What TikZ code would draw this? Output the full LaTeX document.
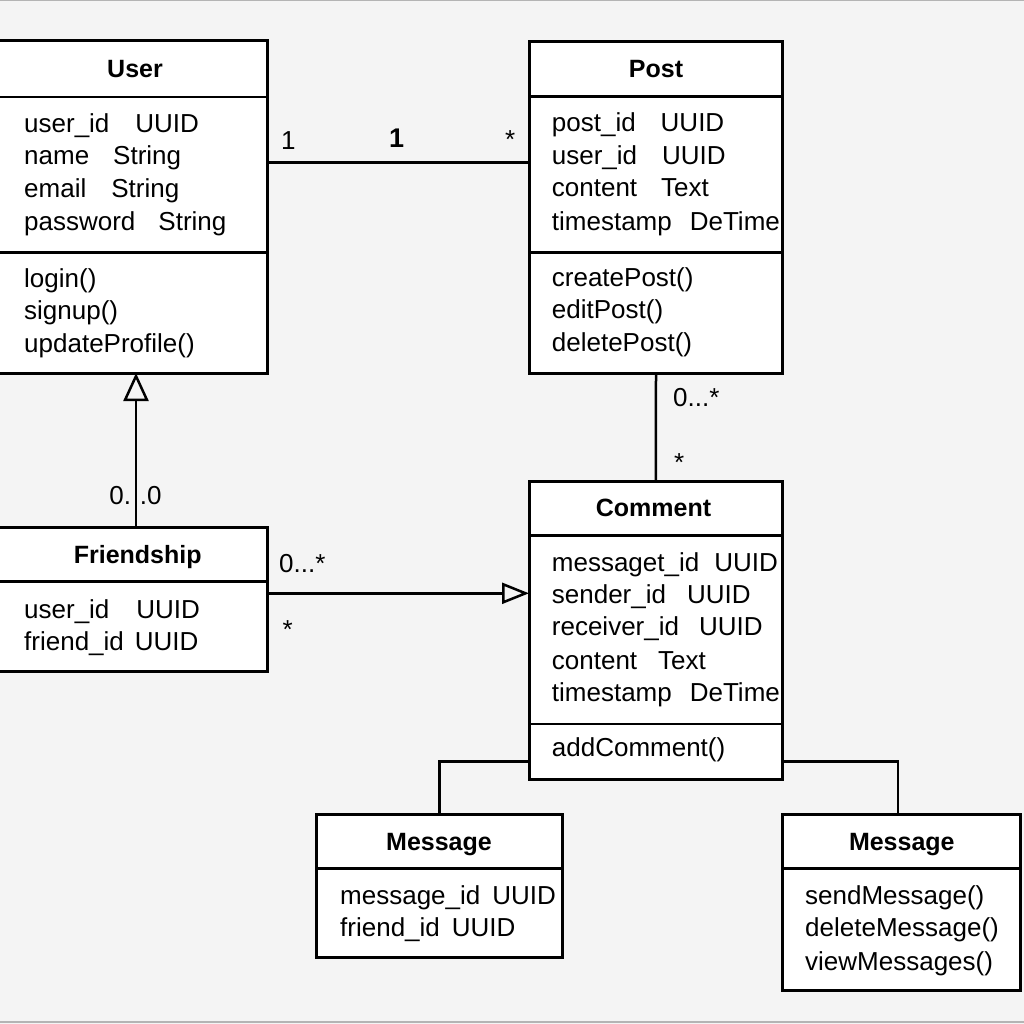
\documentclass[tikz,border=0pt]{standalone}
\usepackage{fontspec}
\setmainfont{Liberation Sans}
\usetikzlibrary{arrows.meta,calc}
\definecolor{bgc}{HTML}{F4F4F4}
\definecolor{edgec}{HTML}{B4B4B4}
\begin{document}
\begin{tikzpicture}[x=1pt,y=-1pt,
  box/.style={draw=black, fill=white, line width=3pt, anchor=north west, inner sep=0pt, outer sep=0pt},
  div/.style={line width=2.5pt},
  conn/.style={line width=2.5pt},
  txt/.style={anchor=base west, inner sep=0pt, font=\fontsize{26}{30}\selectfont},
  ttl/.style={anchor=base, inner sep=0pt, font=\fontsize{25}{30}\selectfont\bfseries},
  lbl/.style={anchor=base west, inner sep=0pt, font=\fontsize{26}{30}\selectfont},
  genA/.style={conn, -{Triangle[open, length=28pt, width=25pt, line width=2.5pt]}},
  genB/.style={conn, -{Triangle[open, length=27pt, width=21pt, line width=2.5pt]}}
]
\useasboundingbox (0,0) rectangle (1024,1024);
\clip (0,0) rectangle (1024,1024);
\fill[bgc] (0,0) rectangle (1024,1024);
\draw[edgec, line width=1.5pt] (0,0.75) -- (1024,0.75);
\draw[edgec, line width=1.5pt] (0,1022) -- (1024,1022);

% boxes
\node[box, minimum width=287.7pt, minimum height=332pt] (user) at (-20,41) {};
\node[box, minimum width=253.4pt, minimum height=331.7pt] (post) at (529.3,41.3) {};
\node[box, minimum width=287.7pt, minimum height=144.4pt] (friend) at (-20,527.3) {};
\node[box, minimum width=253.7pt, minimum height=297.6pt] (comment) at (529,481.7) {};
\node[box, minimum width=246pt, minimum height=143.7pt] (msga) at (316.7,814) {};
\node[box, minimum width=237.3pt, minimum height=176pt] (msgb) at (782.7,814) {};

% dividers
\draw[div] (user.west |- 0,97) -- (user.east |- 0,97);
\draw[div] (user.west |- 0,252.5) -- (user.east |- 0,252.5);
\draw[div] (post.west |- 0,96.5) -- (post.east |- 0,96.5);
\draw[div] (post.west |- 0,252.7) -- (post.east |- 0,252.7);
\draw[div] (friend.west |- 0,581.7) -- (friend.east |- 0,581.7);
\draw[div] (comment.west |- 0,535.7) -- (comment.east |- 0,535.7);
\draw[div] (comment.west |- 0,724) -- (comment.east |- 0,724);
\draw[div] (msga.west |- 0,868.3) -- (msga.east |- 0,868.3);
\draw[div] (msgb.west |- 0,868.3) -- (msgb.east |- 0,868.3);

% User
\node[ttl] (userT) at (135,78) {User};
\node[txt] (u1) at (24,133) {user\_id\hspace{26pt}UUID};
\node[txt] (u2) at (24,165) {name\hspace{24pt}String};
\node[txt] (u3) at (24,197.5) {email\hspace{25pt}String};
\node[txt] (u4) at (24,230) {password\hspace{23pt}String};
\node[txt] (u5) at (24,287) {login()};
\node[txt] (u6) at (24,319.5) {signup()};
\node[txt] (u7) at (24,352) {updateProfile()};

% Post
\node[ttl] (postT) at (656,77.7) {Post};
\node[txt] (p1) at (551.7,131.7) {post\_id\hspace{25pt}UUID};
\node[txt] (p2) at (551.7,164.3) {user\_id\hspace{25pt}UUID};
\node[txt] (p3) at (551.7,196.7) {content\hspace{24pt}Text};
\node[txt] (p4) at (551.7,230) {timestamp\hspace{18pt}DeTime};
\node[txt] (p5) at (551.7,286.7) {createPost()};
\node[txt] (p6) at (551.7,318.3) {editPost()};
\node[txt] (p7) at (551.7,351.7) {deletePost()};

% Friendship
\node[ttl] (friendT) at (137.7,563.3) {Friendship};
\node[txt] (f1) at (24,618.3) {user\_id\hspace{27pt}UUID};
\node[txt] (f2) at (24,650) {friend\_id\hspace{11pt}UUID};

% Comment
\node[ttl] (commentT) at (653.5,516.7) {Comment};
\node[txt] (c1) at (551.7,571.7) {messaget\_id\hspace{15pt}UUID};
\node[txt] (c2) at (551.7,603.3) {sender\_id\hspace{21pt}UUID};
\node[txt] (c3) at (551.7,635.7) {receiver\_id\hspace{20pt}UUID};
\node[txt] (c4) at (551.7,669) {content\hspace{21pt}Text};
\node[txt] (c5) at (551.7,701.7) {timestamp\hspace{18pt}DeTime};
\node[txt] (c6) at (551.7,756.7) {addComment()};

% Message (left)
\node[ttl] (msgaT) at (439,850) {Message};
\node[txt] (ma1) at (340,904.3) {message\_id\hspace{12pt}UUID};
\node[txt] (ma2) at (340,936.7) {friend\_id\hspace{12pt}UUID};

% Message (right)
\node[ttl] (msgbT) at (901.8,850) {Message};
\node[txt] (mb1) at (805,904.3) {sendMessage()};
\node[txt] (mb2) at (805,936.7) {deleteMessage()};
\node[txt] (mb3) at (805,970) {viewMessages()};

% connectors
\draw[conn] (user.east |- 0,162.3) -- (post.west |- 0,162.3);
\draw[conn] (post.south) -- (comment.north);
\draw[genA] (friend.north -| 136,0) -- (user.south -| 136,0);
\draw[genB] (friend.east |- 0,593.3) -- (comment.west |- 0,593.3);
\draw[conn] (comment.west |- 0,761.7) -| (msga.north);
\draw[conn] (comment.east |- 0,761.7) -| ($(msgb.north)+(-3.3,0)$);

% multiplicity labels
\node[lbl] (l1) at (281,150) {1};
\node[lbl, font=\fontsize{27}{30}\selectfont\bfseries] (l2) at (389,147.7) {1};
\node[lbl] (l3) at (505,149) {*};
\node[lbl] (l4) at (673,406.7) {0...*};
\node[lbl] (l5) at (674,471.7) {*};
\node[lbl, anchor=base] (l6) at (135.5,504) {0.\hspace{9pt}.0};
\node[lbl] (l7) at (279,572.3) {0...*};
\node[lbl] (l8) at (282.5,638) {*};
\end{tikzpicture}
\end{document}
